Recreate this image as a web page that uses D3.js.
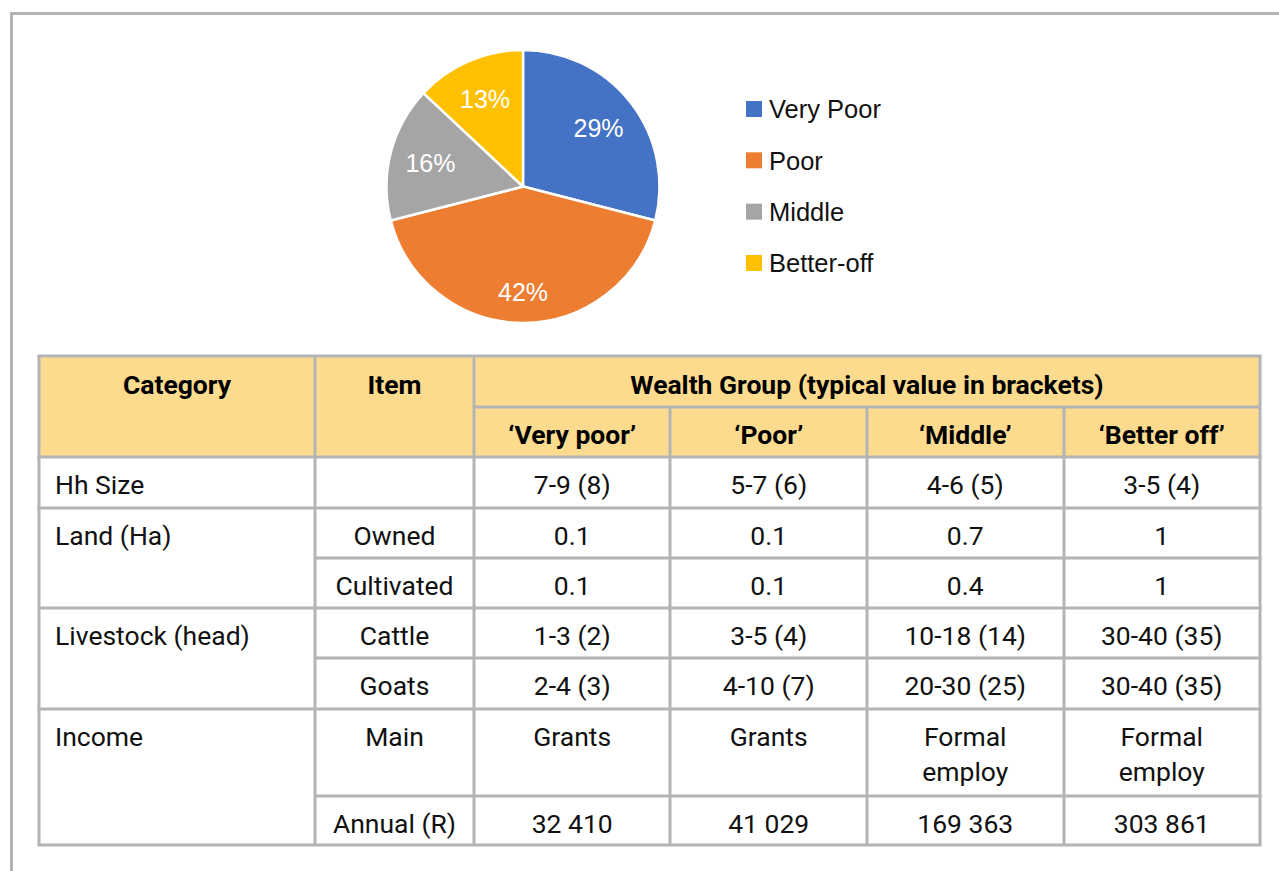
<!DOCTYPE html>
<html>
<head>
<meta charset="utf-8">
<script src="https://cdn.jsdelivr.net/npm/d3@7"></script>
<style>
  html, body { margin: 0; padding: 0; background: #ffffff; }
  svg { display: block; }
</style>
</head>
<body>
<svg id="chart" width="1279" height="871"></svg>
<script>
// ---------- DATA ----------
const groups = ["Very Poor", "Poor", "Middle", "Better-off"];
const shares = [29, 42, 16, 13];
const groupColors = ["#4472C4", "#ED7D31", "#A5A5A5", "#FFC000"];

const headerTop = ["Category", "Item", "Wealth Group (typical value in brackets)"];
const wealthHeaders = ["‘Very poor’", "‘Poor’", "‘Middle’", "‘Better off’"];

const categoryLabels = ["Hh Size", "Land (Ha)", "Livestock (head)", "Income"];
const categorySpans = [1, 2, 2, 2];
const itemLabels = ["", "Owned", "Cultivated", "Cattle", "Goats", "Main", "Annual (R)"];
const veryPoorValues = ["7-9 (8)", "0.1", "0.1", "1-3 (2)", "2-4 (3)", "Grants", "32 410"];
const poorValues = ["5-7 (6)", "0.1", "0.1", "3-5 (4)", "4-10 (7)", "Grants", "41 029"];
const middleValues = ["4-6 (5)", "0.7", "0.4", "10-18 (14)", "20-30 (25)", "Formal\nemploy", "169 363"];
const betterOffValues = ["3-5 (4)", "1", "1", "30-40 (35)", "30-40 (35)", "Formal\nemploy", "303 861"];

// ---------- LAYOUT ----------
const svg = d3.select("#chart");
const W = 1279, H = 871;

// outer frame (top + left rules)
const frameColor = "#b3b3b3";
svg.append("line").attr("x1", 10).attr("x2", W).attr("y1", 13.5).attr("y2", 13.5)
  .attr("stroke", frameColor).attr("stroke-width", 3);
svg.append("line").attr("x1", 11.5).attr("x2", 11.5).attr("y1", 12).attr("y2", H)
  .attr("stroke", frameColor).attr("stroke-width", 3);

// ---------- PIE ----------
const cx = 523, cy = 186.5, R = 136.5;
const pie = d3.pie().sort(null).value(d => d)(shares);
const arc = d3.arc().innerRadius(0).outerRadius(R);
const labelArc = d3.arc().innerRadius(R * 0.7).outerRadius(R * 0.7);
const color = d3.scaleOrdinal().domain(groups).range(groupColors);

const pg = svg.append("g").attr("transform", `translate(${cx},${cy})`);
pg.selectAll("path").data(pie).join("path")
  .attr("d", arc)
  .attr("fill", (d, i) => color(groups[i]))
  .attr("stroke", "#ffffff").attr("stroke-width", 2.5).attr("stroke-linejoin", "round");

pg.selectAll("text").data(pie).join("text")
  .attr("transform", d => {
    const c = labelArc.centroid(d);
    const extra = d.value === d3.max(shares) ? 1.1 : 1;
    return `translate(${c[0] * extra},${c[1] * extra})`;
  })
  .attr("text-anchor", "middle").attr("dy", "0.36em")
  .attr("fill", "#ffffff")
  .style("font-family", "'Liberation Sans', Arial, sans-serif")
  .style("font-size", "25px")
  .text(d => d.value + "%");

// legend
const legY = d3.scalePoint().domain(groups).range([109, 263]);
const lg = svg.append("g");
lg.selectAll("rect").data(groups).join("rect")
  .attr("x", 746).attr("y", d => legY(d) - 8).attr("width", 16).attr("height", 16)
  .attr("fill", d => color(d));
lg.selectAll("text").data(groups).join("text")
  .attr("x", 769).attr("y", d => legY(d)).attr("dy", "0.36em")
  .attr("fill", "#111")
  .style("font-family", "'Liberation Sans', Arial, sans-serif")
  .style("font-size", "25.5px")
  .text(d => d);

// ---------- TABLE ----------
const colEdges = [39, 315, 474, 670, 867, 1064, 1260];
const headerEdges = [356, 407, 457];
const rowEdges = [457, 508, 558, 608, 658, 709, 796, 845];

const headerFill = "#FCDB8F";
const borderColor = "#b4b4b4";
const bw = 3;
const tg = svg.append("g");
const fontFam = "Roboto, 'Noto Sans', sans-serif";
const fs = 26.5;

// header fill
tg.append("rect").attr("x", colEdges[0]).attr("y", headerEdges[0])
  .attr("width", colEdges[6] - colEdges[0]).attr("height", headerEdges[2] - headerEdges[0])
  .attr("fill", headerFill);

function hline(x1, x2, y) {
  tg.append("line").attr("x1", x1).attr("x2", x2).attr("y1", y).attr("y2", y)
    .attr("stroke", borderColor).attr("stroke-width", bw);
}
function vline(x, y1, y2) {
  tg.append("line").attr("x1", x).attr("x2", x).attr("y1", y1).attr("y2", y2)
    .attr("stroke", borderColor).attr("stroke-width", bw);
}

// header lines
hline(colEdges[0] - 1.5, colEdges[6] + 1.5, headerEdges[0]);
hline(colEdges[2], colEdges[6], headerEdges[1]);
hline(colEdges[0] - 1.5, colEdges[6] + 1.5, headerEdges[2]);
vline(colEdges[0], headerEdges[0], rowEdges[7]);
vline(colEdges[1], headerEdges[0], rowEdges[7]);
vline(colEdges[2], headerEdges[0], rowEdges[7]);
vline(colEdges[3], headerEdges[1], rowEdges[7]);
vline(colEdges[4], headerEdges[1], rowEdges[7]);
vline(colEdges[5], headerEdges[1], rowEdges[7]);
vline(colEdges[6], headerEdges[0], rowEdges[7]);

// row lines: full width only where a category begins
let catStartRows = [];
let acc = 0;
categorySpans.forEach(s => { catStartRows.push(acc); acc += s; });
for (let r = 1; r < rowEdges.length; r++) {
  if (r === rowEdges.length - 1 || catStartRows.includes(r)) {
    hline(colEdges[0] - 1.5, colEdges[6] + 1.5, rowEdges[r]);
  } else {
    hline(colEdges[1], colEdges[6] + 1.5, rowEdges[r]);
  }
}

// header texts
function headText(x, y, t) {
  tg.append("text").attr("x", x).attr("y", y).attr("dy", "0.36em")
    .attr("text-anchor", "middle").attr("fill", "#000")
    .style("font-family", fontFam).style("font-weight", 700).style("font-size", fs + "px")
    .text(t);
}
headText((colEdges[0] + colEdges[1]) / 2, 384, headerTop[0]);
headText((colEdges[1] + colEdges[2]) / 2, 384, headerTop[1]);
headText((colEdges[2] + colEdges[6]) / 2, 384, headerTop[2]);
const wealthX = d3.scaleBand().domain(wealthHeaders).range([colEdges[2], colEdges[6]]);
wealthHeaders.forEach(h => headText(wealthX(h) + wealthX.bandwidth() / 2, 434, h));

// body texts
function bodyText(x, y, t, anchor) {
  const lines = t.split("\n");
  const txt = tg.append("text").attr("x", x).attr("y", y)
    .attr("text-anchor", anchor).attr("fill", "#111")
    .style("font-family", fontFam).style("font-weight", 400).style("font-size", fs + "px");
  lines.forEach((l, i) => {
    txt.append("tspan").attr("x", x).attr("dy", i === 0 ? "0.36em" : "35px").text(l);
  });
}
const firstLine = 27;
categoryLabels.forEach((c, i) => {
  bodyText(55, rowEdges[catStartRows[i]] + firstLine, c, "start");
});
itemLabels.forEach((t, r) => {
  if (t) bodyText((colEdges[1] + colEdges[2]) / 2, rowEdges[r] + firstLine, t, "middle");
});
const valueCols = [veryPoorValues, poorValues, middleValues, betterOffValues];
valueCols.forEach((col, ci) => {
  const x = wealthX(wealthHeaders[ci]) + wealthX.bandwidth() / 2;
  col.forEach((t, r) => bodyText(x, rowEdges[r] + firstLine, t, "middle"));
});
</script>
</body>
</html>
